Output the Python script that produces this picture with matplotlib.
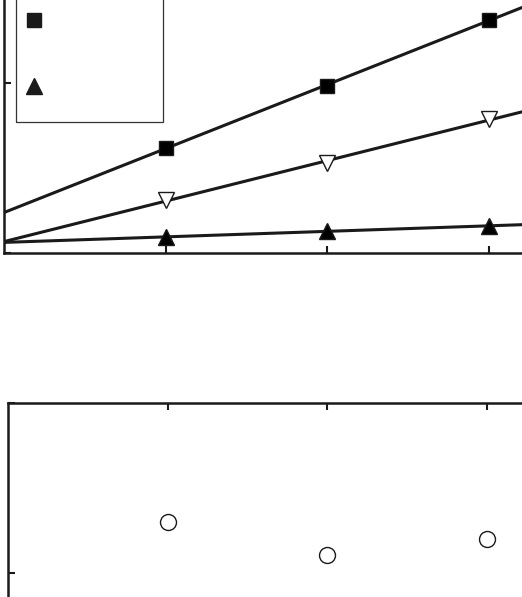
import numpy as np
import matplotlib
matplotlib.use("Agg")
import matplotlib.pyplot as plt
from matplotlib.patches import Rectangle

# data
x = np.array([1, 2, 3])
squares = [6.18, 9.82, 13.7]
down_tri = [3.12, 5.29, 7.88]
up_tri = [0.94, 1.29, 1.59]
circles = [13.0, 11.06, 12.0]

W, H = 522, 597


def px_box(left, top, right, bottom):
    # axes rectangle given in pixels (may run past the figure edges)
    return [left / W, 1 - bottom / H, (right - left) / W, (bottom - top) / H]


fig = plt.figure(figsize=(W / 100, H / 100), dpi=100)

# Top panel
ax1 = fig.add_axes(px_box(4, -40, 560, 253))
ax1.set_xlim(0, 556 / 161.5)
ax1.set_ylim(0, 293 / 17)
xs = np.linspace(0, 556 / 161.5, 50)
for vals, mk, face, ms in [(squares, 's', 'black', 10),
                           (down_tri, 'v', 'white', 11.5),
                           (up_tri, '^', 'black', 11.5)]:
    k, b = np.polyfit(x, vals, 1)
    ax1.plot(xs, k * xs + b, color='#1a1a1a', lw=2.2, zorder=2)
    ax1.plot(x, vals, ls='none', marker=mk, ms=ms, mfc=face, mec='#1a1a1a',
             mew=1.0, zorder=3)

# legend box
ax1.add_patch(Rectangle((0.0216, 0.447), 0.2644, 0.7, transform=ax1.transAxes,
                        fill=False, ec='#333333', lw=0.9, clip_on=False))
ax1.plot([0.054], [0.795], 's', ms=10, color='#1a1a1a', transform=ax1.transAxes)
ax1.plot([0.054], [0.570], '^', ms=11.5, color='#1a1a1a', transform=ax1.transAxes)

ax1.set_xticks([1, 2, 3])
ax1.set_yticks([0, 10])

# Bottom panel
ax2 = fig.add_axes(px_box(8, 403, 560, 700))
ax2.set_xlim(0, 552 / 159.5)
ax2.set_ylim(10 - 127 / 17, 20)
ax2.plot(x, circles, ls='none', marker='o', ms=11.5, mfc='white',
         mec='#1a1a1a', mew=1.0)
ax2.set_xticks([1, 2, 3])
ax2.set_yticks([10, 20])

for ax in (ax1, ax2):
    for s in ax.spines.values():
        s.set_linewidth(1.8)
        s.set_color('#1a1a1a')
    ax.tick_params(direction='in', length=5, width=1.5, top=True, right=True,
                   labelbottom=False, labelleft=False, colors='#1a1a1a')

fig.savefig('out.png', dpi=100)
